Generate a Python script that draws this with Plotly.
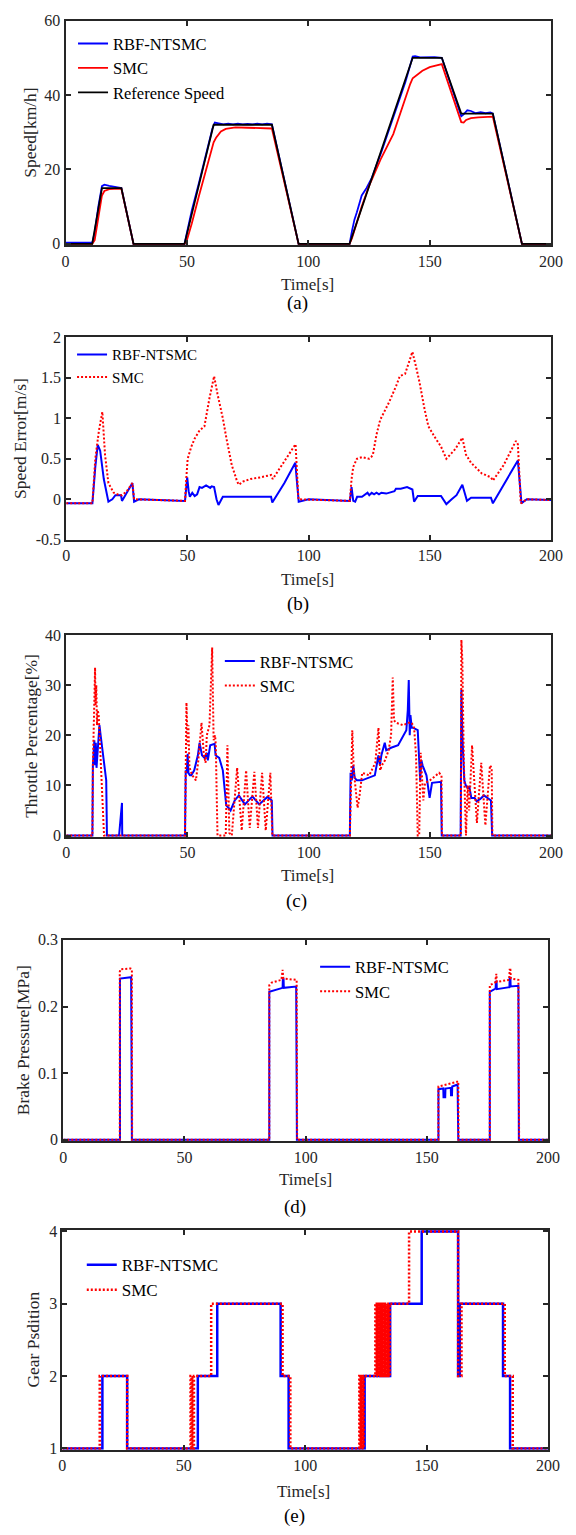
import plotly.graph_objects as go

W, H = 576, 1535

# ---------------- (a) Speed [km/h] ----------------
ref_t = [0, 11, 15, 23, 28, 49, 61, 85, 96, 117, 143, 155, 163, 176, 188, 200]
ref_v = [0, 0, 15, 15, 0, 0, 32, 32, 0, 0, 50, 50, 35, 35, 0, 0]

rbf_a_t = [0, 11, 12, 13.5, 15, 16, 18, 20, 22, 23, 28, 49, 50, 52, 55, 58, 60.5, 61.5, 63, 65,
           67, 69, 71, 73, 75, 77, 79, 81, 83, 85, 96, 117, 118, 119, 120, 121, 122, 124, 126, 130,
           135, 140, 143, 144, 146, 148, 150, 152, 155, 163, 164, 165.5, 167, 169, 171, 173, 175, 176, 188, 200]
rbf_a_v = [0.3, 0.3, 3, 10, 15.5, 15.9, 15.6, 15.3, 15.1, 15, 0, 0, 3, 9, 16.5, 24, 31, 32.6, 32.4, 32.1,
           32.3, 32.1, 32.3, 32.1, 32.2, 32.1, 32.3, 32.1, 32.3, 32.1, 0, 0, 3.5, 6.5, 8.5, 10.5, 13, 15, 17.5, 24.5,
           34, 43.5, 50.3, 50.4, 50.1, 50.2, 50.1, 50.2, 50, 34.3, 34.8, 35.9, 35.7, 35.1, 35.4, 35.1, 35.3, 35, 0, 0]

smc_a_t = [0, 11, 12, 13, 14, 15, 16, 18, 20, 23, 28, 49, 50, 52, 55, 58, 60, 61, 62, 63,
           64, 66, 68, 70, 75, 80, 85, 96, 117, 118, 120, 122, 125, 130, 135, 140, 142, 143, 145, 147,
           150, 153, 155, 163, 164, 165, 167, 170, 173, 176, 188, 200]
smc_a_v = [0, 0, 1, 5, 10, 13, 14.2, 14.7, 14.8, 14.8, 0, 0, 1, 5.5, 13, 20, 25, 27.3, 28.5, 29.5,
           30.2, 30.9, 31.2, 31.3, 31.2, 31.1, 31, 0, 0, 1.5, 6, 10, 15.5, 23, 29.5, 39.5, 43, 44.5, 45.5, 46.5,
           47.5, 48, 48.3, 32.7, 32.6, 33.3, 33.8, 34, 34.2, 34.2, 0, 0]

# ---------------- (b) Speed error [m/s] ----------------
rbf_b_t = [0, 10.8, 12, 13, 14, 15.5, 17.4, 19, 20.3, 22.6, 23, 25, 27.3, 28, 30, 49, 49.5, 49.9, 50.5, 51,
           52, 53, 54, 55, 56, 57.7, 59.4, 60, 61, 62, 62.8, 64.6, 70, 80, 84.5, 85, 90, 94.5, 95.9, 100,
           117, 117.7, 118.4, 119.2, 120, 122, 124.3, 125, 126, 127, 128, 129, 130, 132, 135.4, 136, 138, 140.6, 142.8, 143.5,
           145, 154.6, 156.8, 159, 161, 163.4, 165.3, 167, 175.2, 176, 186.3, 187.8, 190, 200]
rbf_b_v = [-0.05, -0.05, 0.4, 0.67, 0.6, 0.25, -0.03, 0.0, 0.05, 0.05, -0.02, 0.08, 0.2, -0.03, 0, -0.02, 0.1, 0.27, 0.1, 0.03,
           0.08, 0.04, 0.06, 0.15, 0.14, 0.17, 0.14, 0.16, 0.15, 0.0, -0.07, 0.03, 0.03, 0.03, 0.03, -0.04, 0.2, 0.45, -0.03, 0,
           -0.02, 0.15, -0.02, -0.03, 0.03, 0.03, 0.08, 0.05, 0.08, 0.06, 0.08, 0.06, 0.08, 0.07, 0.1, 0.13, 0.13, 0.15, 0.12, -0.03,
           0.04, 0.04, -0.06, 0.0, 0.05, 0.18, -0.02, 0.02, 0.02, -0.05, 0.48, -0.05, 0, -0.01]

smc_b_t = [0, 10.8, 12, 13.5, 14.9, 16, 17.4, 19.6, 22, 23, 25, 27.3, 28, 49, 49.5, 50.1, 51.6, 53, 55, 57,
           59.1, 61, 62.4, 64.6, 66.1, 68.3, 70.5, 71.2, 73, 76, 80, 84.5, 85.2, 88, 90.4, 94.6, 95.8, 117, 117.7, 118.4,
           119.9, 122, 125, 125.8, 126.5, 128, 129.5, 133.2, 136.1, 137.6, 139.8, 142.8, 144.2, 145.7, 147.9, 149.4, 152.4, 154.6, 156.8, 160.5,
           163.4, 164.9, 167, 171.4, 175.2, 176, 180.4, 184.8, 185.5, 186.3, 187.5, 190, 200]
smc_b_v = [-0.05, -0.05, 0.5, 0.85, 1.08, 0.55, 0.2, 0.08, 0.05, 0.05, 0.1, 0.2, 0, -0.02, 0.25, 0.5, 0.65, 0.75, 0.85, 0.9,
           1.25, 1.52, 1.3, 1.0, 0.75, 0.42, 0.22, 0.18, 0.22, 0.25, 0.27, 0.3, 0.25, 0.38, 0.5, 0.68, 0, -0.02, 0.25, 0.4,
           0.5, 0.52, 0.5, 0.52, 0.55, 0.8, 0.98, 1.2, 1.4, 1.52, 1.55, 1.82, 1.65, 1.45, 1.1, 0.9, 0.75, 0.65, 0.5, 0.62,
           0.76, 0.55, 0.45, 0.32, 0.27, 0.23, 0.42, 0.68, 0.72, 0.68, -0.05, 0, -0.01]

# ---------------- (c) Throttle percentage [%] ----------------
rbf_c_t = [0, 10.8, 11.0, 11.6, 11.9, 12.2, 12.5, 12.8, 13.0, 13.7,
           14.2, 14.9, 15.3, 16.0, 16.5, 16.8, 21.8, 23.0, 23.1, 49.0,
           49.3, 49.7, 50.1, 50.4, 51.0, 51.6, 52.8, 54.3, 55.0, 56.0,
           57.0, 58.0, 58.4, 59.4, 61.2, 61.6, 63.1, 64.6, 66.0, 67.0,
           67.8, 69.5, 71.2, 73.7, 76.8, 79.6, 83.0, 84.8, 85.1, 117.0,
           117.3, 117.8, 118.4, 119.0, 119.9, 122.0, 124.3, 127.3, 128.8, 129.4,
           130.0, 131.4, 132.0, 134.0, 136.9, 139.0, 140.3, 140.9, 141.3, 141.7,
           142.0, 142.5, 143.0, 145.0, 145.6, 146.0, 146.5, 147.0, 148.6, 149.9,
           150.9, 154.6, 154.9, 162.7, 163.0, 163.4, 164.2, 164.8, 165.6, 166.3,
           167.1, 168.5, 169.3, 170.8, 172.3, 173.8, 175.2, 175.7, 200]
rbf_c_v = [0, 0, 14, 19, 14, 18.5, 13.5, 16, 16, 22,
           20, 17, 16.5, 13, 11, 0, 0, 6.5, 0, 0,
           13, 12.5, 16.3, 12.5, 12, 12, 13, 16, 18.5, 16,
           15.5, 16.5, 15, 18, 18.3, 16, 15.5, 13, 6, 5.5,
           5, 7, 8, 6.2, 7.8, 6.2, 7.7, 7, 0, 0,
           12.5, 11, 14, 11.5, 11, 11, 11.5, 12, 16, 14,
           16, 18.5, 17, 17.5, 18, 20, 21, 25, 31, 20,
           24, 21.5, 21.5, 21, 16, 11, 15, 14, 12, 7.5,
           10.5, 10.7, 0, 0, 29, 20, 11, 10, 9.5, 9.7,
           7.5, 7.5, 6.8, 7.3, 8, 7.5, 7, 0, 0]

smc_c_t = [0, 10.8, 11.0, 11.5, 11.9, 12.1, 12.4, 12.7, 13.0, 13.4, 13.8, 14.3, 15.0, 15.6,
           49.0, 49.3, 49.6, 50.1, 50.4, 50.8, 51.2, 52.0, 53.5, 54.5, 55.8, 56.8, 57.5, 58.0, 59.1, 60.2, 60.8, 61.4, 61.7, 62.0, 62.4,
           65.8, 66.5, 67.3, 68.3, 70.5, 72.4, 74.2, 75.7, 77.6, 79.1, 80.8, 82.3, 84.2, 85.0,
           117.0, 117.5, 118.0, 118.6, 119.2, 120.2, 121.0, 122.1, 125.0, 127.5, 128.8, 129.5, 130.2, 131.5, 133.0, 134.0, 134.7,
           135.2, 136.0, 139.0, 141.3, 142.5, 143.5, 144.3, 145.0, 145.6, 146.2, 146.8, 147.3, 148.0, 150.0, 153.8, 154.8, 155.0,
           162.8, 163.0, 163.4, 164.0, 164.9, 165.6, 166.2, 167.4, 169.4, 171.2, 172.9, 174.8, 175.5, 175.8, 200]
smc_c_v = [0, 0, 14, 27, 33.5, 26, 30, 22, 25, 24, 20, 14, 6, 0,
           0, 14, 26.5, 18, 22, 14, 13, 12, 11, 15, 22.5, 16, 14.5, 20, 22, 37.5, 19, 20, 18, 10, 0,
           0, 18, 0.5, 0, 13.5, 1, 13, 1.5, 12.7, 1.5, 12.5, 1, 12.5, 0,
           0, 13, 21, 13, 10, 5.5, 8, 12.5, 12, 14.5, 21.5, 13, 14, 15, 17, 20, 31.5,
           23, 22.5, 22, 22.5, 22.5, 21.5, 16, 0, 0, 16.5, 10, 7, 10.5, 11, 12.5, 12, 0,
           0, 39, 35, 15, 0, 10, 5, 18, 2.5, 14.5, 2, 14, 13.5, 0, 0]

# ---------------- (d) Brake pressure [MPa] ----------------
rbf_d_t = [0, 23.4, 23.4, 28.0, 28.3, 85.0, 85.0, 90.5, 90.6, 90.9, 91.0, 96.1, 96.4,
           154.8, 154.8, 156.8, 156.9, 157.6, 157.7, 159.9, 160.0, 160.4, 160.5, 162.7, 163.0,
           176.0, 176.0, 178.4, 178.5, 178.8, 178.9, 184.1, 184.2, 184.5, 184.6, 187.8, 188.0, 200]
rbf_d_v = [0, 0, 0.242, 0.244, 0, 0, 0.222, 0.228, 0.241, 0.241, 0.228, 0.230, 0,
           0, 0.076, 0.077, 0.064, 0.064, 0.077, 0.078, 0.067, 0.067, 0.080, 0.083, 0,
           0, 0.222, 0.227, 0.237, 0.237, 0.226, 0.229, 0.243, 0.243, 0.230, 0.231, 0, 0]

smc_d_t = [0, 23.3, 23.3, 23.6, 27.8, 28.3, 28.4, 85.0, 85.0, 86, 90.0, 90.3, 90.5, 90.8, 91.0, 96.0, 96.3, 96.5,
           154.8, 154.8, 157, 160, 162.5, 163.0, 163.1,
           176.0, 176.0, 178.2, 178.4, 178.7, 178.9, 184.0, 184.2, 184.5, 184.7, 187.8, 188.1, 200]
smc_d_v = [0, 0, 0.252, 0.256, 0.257, 0.256, 0, 0, 0.232, 0.236, 0.240, 0.255, 0.255, 0.242, 0.242, 0.240, 0.240, 0,
           0, 0.080, 0.082, 0.084, 0.087, 0.088, 0,
           0, 0.232, 0.236, 0.249, 0.249, 0.237, 0.240, 0.255, 0.255, 0.242, 0.240, 0, 0]

# ---------------- (e) Gear position ----------------
rbf_e_t = [0, 16.5, 26.7, 55.8, 63.8, 89.9, 93.2, 124.5, 135.0, 148.0, 163.0, 163.7, 181.5, 184.4, 200]
rbf_e_g = [1, 2, 1, 2, 3, 2, 1, 2, 3, 4, 2, 3, 2, 1, 1]

smc_e_t = [0, 15.4, 26.7, 52.8, 53.2, 53.5, 53.9, 54.2, 61.3, 90.7, 93.9,
           122.3, 122.6, 122.9, 123.2, 123.5, 123.8, 124.1,
           128.9, 129.2, 129.5, 129.8, 130.1, 130.4, 130.7, 131.0, 131.3, 131.6, 131.9, 132.2,
           132.5, 132.8, 133.1, 133.4, 133.7, 134.0, 134.3, 134.6, 134.9,
           142.8, 163.0, 164.4, 182.2, 185.5, 200]
smc_e_g = [1, 2, 1, 2, 1, 2, 1, 2, 3, 2, 1,
           2, 1, 2, 1, 2, 1, 2,
           3, 2, 3, 2, 3, 2, 3, 2, 3, 2, 3, 2,
           3, 2, 3, 2, 3, 2, 3, 2, 3,
           4, 2, 3, 2, 1, 1]

for a, b in [(ref_t, ref_v), (rbf_a_t, rbf_a_v), (smc_a_t, smc_a_v), (rbf_b_t, rbf_b_v), (smc_b_t, smc_b_v),
             (rbf_c_t, rbf_c_v), (smc_c_t, smc_c_v), (rbf_d_t, rbf_d_v), (smc_d_t, smc_d_v),
             (rbf_e_t, rbf_e_g), (smc_e_t, smc_e_g)]:
    assert len(a) == len(b), (len(a), len(b))

x_ticks = [0, 50, 100, 150, 200]
y_titles = ["Speed[km/h]", "Speed Error[m/s]", "Throttle Percentage[%]", "Brake Pressure[MPa]", "Gear Psdition"]
captions = ["(a)", "(b)", "(c)", "(d)", "(e)"]

# ---------------- layout geometry (page pixels) ----------------
FONT = "Liberation Serif"
TXT = "#262626"
BLUE = "#0000FF"
RED = "#FF0000"

panels = [  # left, right, top, bottom (px)
    (63.3, 562.7, 12.7, 240.0),
    (64.0, 562.7, 333.0, 537.7),
    (64.0, 562.7, 634.0, 838.3),
    (61.0, 559.5, 942.3, 1146.0),
    (60.0, 559.5, 1235.7, 1458.0),
]

def px_x(p):
    return p / W

def px_y(p):
    return 1 - p / H

fig = go.Figure()

def add(t, v, name, color, width, dash, ax, legend, shape="linear"):
    fig.add_trace(go.Scatter(
        x=t, y=v, name=name, mode="lines",
        line=dict(color=color, width=width, dash=dash, shape=shape),
        xaxis="x" + ("" if ax == 1 else str(ax)),
        yaxis="y" + ("" if ax == 1 else str(ax)),
        legend=legend, hoverinfo="skip",
    ))

DOT = "2px,2px"
# (a)
add(rbf_a_t, rbf_a_v, "RBF-NTSMC", BLUE, 1.8, "solid", 1, "legend")
add(smc_a_t, smc_a_v, "SMC", RED, 1.8, "solid", 1, "legend")
add(ref_t, ref_v, "Reference Speed", "#000000", 1.8, "solid", 1, "legend")
# (b)
add(rbf_b_t, rbf_b_v, "RBF-NTSMC", BLUE, 2, "solid", 2, "legend2")
add(smc_b_t, smc_b_v, "SMC", RED, 2, DOT, 2, "legend2")
# (c)
add(rbf_c_t, rbf_c_v, "RBF-NTSMC", BLUE, 2, "solid", 3, "legend3")
add(smc_c_t, smc_c_v, "SMC", RED, 2, DOT, 3, "legend3")
# (d)
add(rbf_d_t, rbf_d_v, "RBF-NTSMC", BLUE, 2, "solid", 4, "legend4")
add(smc_d_t, smc_d_v, "SMC", RED, 2, DOT, 4, "legend4")
# (e)
add(rbf_e_t, rbf_e_g, "RBF-NTSMC", BLUE, 2.5, "solid", 5, "legend5", shape="hv")
add(smc_e_t, smc_e_g, "SMC", RED, 2.5, DOT, 5, "legend5", shape="hv")

axis_common = dict(
    showline=True, linecolor=TXT, linewidth=2, mirror="ticks",
    ticks="inside", ticklen=5, tickwidth=2, tickcolor=TXT,
    showgrid=False, zeroline=False, ticklabeloverflow="allow",
    tickfont=dict(family=FONT, size=16, color=TXT),
)

y_specs = [
    dict(range=[-0.4, 60], tickvals=[0, 20, 40, 60], ticktext=["0", "20", "40", "60"]),
    dict(range=[-0.5, 2], tickvals=[-0.5, 0, 0.5, 1, 1.5, 2], ticktext=["-0.5", "0", "0.5", "1", "1.5", "2"]),
    dict(range=[-0.3, 40], tickvals=[0, 10, 20, 30, 40], ticktext=["0", "10", "20", "30", "40"]),
    dict(range=[-0.0022, 0.3], tickvals=[0, 0.1, 0.2, 0.3], ticktext=["0", "0.1", "0.2", "0.3"]),
    dict(range=[0.98, 4.02], tickvals=[1, 2, 3, 4], ticktext=["1", "2", "3", "4"]),
]

layout = dict(
    width=W, height=H, margin=dict(l=0, r=0, t=0, b=0),
    paper_bgcolor="white", plot_bgcolor="white",
    font=dict(family=FONT, color=TXT),
    annotations=[], hovermode=False,
)

for i, (l, r, t, b) in enumerate(panels):
    k = "" if i == 0 else str(i + 1)
    layout["xaxis" + k] = dict(axis_common, domain=[px_x(l), px_x(r)], range=[0, 200],
                               tickvals=x_ticks, ticktext=[str(v) for v in x_ticks],
                               anchor="y" + k)
    layout["yaxis" + k] = dict(axis_common, domain=[px_y(b), px_y(t)], anchor="x" + k, **y_specs[i])

# axis titles / captions (pixel centres)
time_pos = [(312, 280), (312, 578), (312, 877), (310, 1185), (308, 1500)]
cap_pos = [(302, 298), (302, 603), (301, 903), (299, 1212), (299, 1525)]
ytitle_x = [26.5, 16.0, 27.6, 19.2, 29.5]
for i, (l, r, t, b) in enumerate(panels):
    layout["annotations"].append(dict(text="Time[s]", x=px_x(time_pos[i][0]), y=px_y(time_pos[i][1]),
                                      xref="paper", yref="paper", showarrow=False,
                                      xanchor="center", yanchor="middle",
                                      font=dict(family=FONT, size=17, color=TXT)))
    layout["annotations"].append(dict(text=captions[i], x=px_x(cap_pos[i][0]), y=px_y(cap_pos[i][1]),
                                      xref="paper", yref="paper", showarrow=False,
                                      xanchor="center", yanchor="middle",
                                      font=dict(family=FONT, size=19, color="#000000")))
    layout["annotations"].append(dict(text=y_titles[i], x=px_x(ytitle_x[i]), y=px_y((t + b) / 2),
                                      xref="paper", yref="paper", showarrow=False, textangle=-90,
                                      xanchor="center", yanchor="middle",
                                      font=dict(family=FONT, size=17.5, color=TXT)))

def leg(xp, yp, size):
    return dict(x=px_x(xp), y=px_y(yp), xanchor="left", yanchor="top",
                bgcolor="rgba(0,0,0,0)", borderwidth=0,
                font=dict(family=FONT, size=size, color="#000000"),
                tracegroupgap=0)

layout["legend"] = leg(71, 18.5, 16.5)
layout["legend2"] = leg(70, 334, 15)
layout["legend3"] = leg(222, 643, 16.5)
layout["legend4"] = leg(320, 952, 16.5)
layout["legend5"] = leg(80, 1253, 17)

fig.update_layout(**layout)
fig.write_html("out.html", config={"displayModeBar": False},
               post_script="document.body.style.margin='0';document.body.style.padding='0';")
